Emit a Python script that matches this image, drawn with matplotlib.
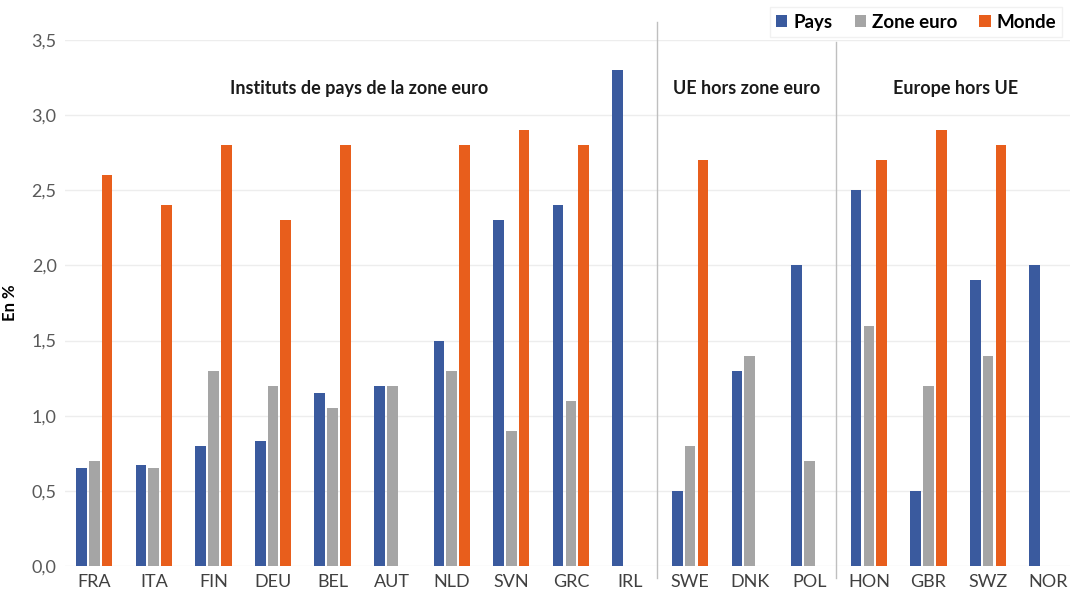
import numpy as np
import matplotlib.pyplot as plt

plt.rcParams['font.family'] = ['Lato', 'DejaVu Sans']

pays_codes = ["FRA", "ITA", "FIN", "DEU", "BEL", "AUT", "NLD", "SVN", "GRC", "IRL",
              "SWE", "DNK", "POL", "HON", "GBR", "SWZ", "NOR"]
pays = [0.65, 0.67, 0.80, 0.83, 1.15, 1.20, 1.50, 2.30, 2.40, 3.30,
        0.50, 1.30, 2.00, 2.50, 0.50, 1.90, 2.00]
zone_euro = [0.70, 0.65, 1.30, 1.20, 1.05, 1.20, 1.30, 0.90, 1.10, np.nan,
             0.80, 1.40, 0.70, 1.60, 1.20, 1.40, np.nan]
monde = [2.60, 2.40, 2.80, 2.30, 2.80, np.nan, 2.80, 2.90, 2.80, np.nan,
         2.70, np.nan, np.nan, 2.70, 2.90, 2.80, np.nan]

groupes = ["Instituts de pays de la zone euro", "UE hors zone euro", "Europe hors UE"]
groupe_debut = [0, 10, 13]
groupe_fin = [9, 12, 16]

c_pays = "#3A5A9E"
c_ze = "#A5A5A5"
c_monde = "#E85E1C"

fig = plt.figure(figsize=(10.74, 5.95), dpi=100)
ax = fig.add_axes([0.0605, 0.0487, 0.9355, 0.8841])

x = np.arange(len(pays_codes))
w = 0.18
d = 0.215
ax.bar(x - d, pays, w, color=c_pays, label="Pays", zorder=3)
ax.bar(x, zone_euro, w, color=c_ze, label="Zone euro", zorder=3)
ax.bar(x + d, monde, w, color=c_monde, label="Monde", zorder=3)

ax.set_ylim(0, 3.5)
ax.set_xlim(-0.49, 16.37)
ax.set_yticks(np.arange(0, 3.51, 0.5))
ax.set_yticklabels([f"{v:.1f}".replace(".", ",") for v in np.arange(0, 3.51, 0.5)])
ax.set_xticks(x)
ax.set_xticklabels(pays_codes)
ax.tick_params(axis='y', length=0, labelsize=13, labelcolor="#595959", pad=6)
ax.tick_params(axis='x', length=0, labelsize=13, labelcolor="#404040", pad=6)
ax.grid(axis='y', color="#EDEDED", linewidth=1, zorder=0)
for s in ax.spines.values():
    s.set_visible(False)

ax.set_ylabel("En %", fontsize=12, fontweight='bold', labelpad=10)

# separateurs entre groupes
ax.axvline(9.45, ymin=-0.023, ymax=1.035, color="#BFBFBF", linewidth=1, clip_on=False)
ax.axvline(12.45, ymin=-0.023, ymax=0.997, color="#BFBFBF", linewidth=1, clip_on=False)

for nom, a, b in zip(groupes, groupe_debut, groupe_fin):
    ax.text((a + b) / 2 - 0.05, 3.18, nom, ha='center', va='center',
            fontsize=13, fontweight='bold', color="#1a1a1a")

leg = fig.legend(loc='center right', bbox_to_anchor=(0.998, 0.963), ncol=3,
                 frameon=True, fontsize=13.5, handlelength=0.6, handleheight=0.6,
                 handletextpad=0.3, columnspacing=1.2, borderpad=0.35,
                 fancybox=False, edgecolor="#EEEEEE")
for t in leg.get_texts():
    t.set_fontweight('bold')

fig.savefig("out.png", dpi=100)
